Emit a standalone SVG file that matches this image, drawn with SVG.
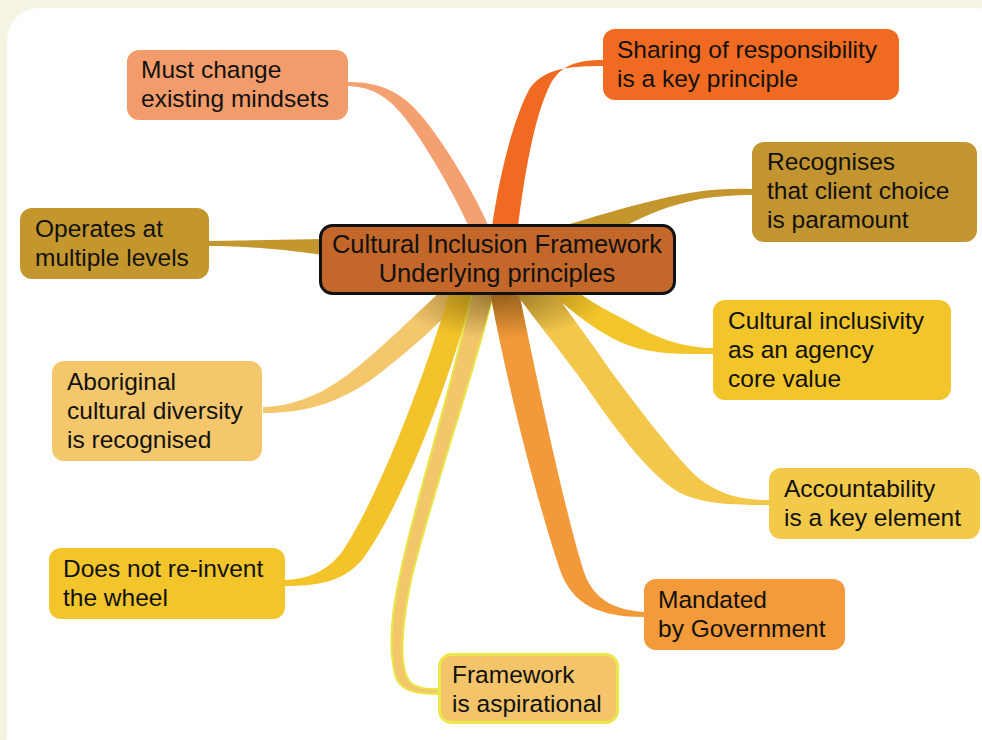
<svg xmlns="http://www.w3.org/2000/svg" xmlns:xlink="http://www.w3.org/1999/xlink" width="982" height="740" viewBox="0 0 982 740">
<style>
.t{font-family:"Liberation Sans",Arial,Helvetica,sans-serif;font-size:24.5px;fill:#111;}
.tc{font-family:"Liberation Sans",Arial,Helvetica,sans-serif;font-size:25.5px;fill:#111;text-anchor:middle;}
.box{stroke:none;}
</style>
<defs>
<radialGradient id="shade" cx="0.5" cy="0.5" r="0.5">
<stop offset="0" stop-color="#4a3000" stop-opacity="0.55"/>
<stop offset="1" stop-color="#4a3000" stop-opacity="0"/>
</radialGradient>
<clipPath id="cc">
<use xlink:href="#c7"/><use xlink:href="#c8"/><use xlink:href="#c9"/><use xlink:href="#c10"/><use xlink:href="#c11"/><use xlink:href="#c6"/>
</clipPath>
</defs>
<rect x="0" y="0" width="982" height="740" fill="#f5f3e1"/>
<rect x="7" y="8" width="1000" height="760" rx="32" fill="#ffffff"/>

<g id="connectors">
<path id="c1" fill="#f4a070" d="M348,82 C385,82 405,95 425,120 C450,152 475,195 489,227 L469,227 C452,190 431,155 414,130 C396,105 380,87 348,86 Z"/>
<path id="c2" fill="#f06a22" d="M603,60 C575,60 560,66 550,85 C535,115 525,170 518,227 L492,227 C500,170 515,115 530,88 C545,68 570,66 603,66 Z"/>
<path id="c3" fill="#c4972e" d="M752,189 C715,188 690,192 660,199 C625,207 590,218 560,227 L624,227 C645,215 670,205 700,199 C720,196 735,195 752,195 Z"/>
<path id="c4" fill="#c4972e" d="M208,241 L322,239 L322,255 C290,250 250,246 208,246 Z"/>
<path id="c7" fill="#f4c76c" d="M263,407 C300,406 330,390 360,365 C390,340 415,315 440,292 L466,292 C445,320 410,350 375,377 C340,403 305,413 263,413 Z"/>
<path id="c8" fill="#f2c42a" d="M285,580 C310,579 328,570 342,552 C370,510 410,420 450,292 L474,292 C437,420 395,515 362,560 C342,583 315,586 285,586 Z"/>
<path id="c9" fill="#f3c66b" stroke="#e8e64a" stroke-width="2" d="M494,292 C472,380 430,500 411,580 C401,630 399,668 410,682 C418,689 428,689 438,689 L438,694 C420,694 402,692 396,678 C388,650 392,610 400,575 C415,500 452,390 472,292 Z"/>
<path id="c10" fill="#f29a3a" d="M644,612 C615,610 595,600 585,575 C570,530 545,420 519,292 L490,292 C510,400 540,510 560,570 C572,605 600,617 644,617 Z"/>
<path id="c11" fill="#f3c84a" d="M769,500 C735,500 715,492 695,475 C670,450 640,410 610,370 C590,340 570,315 555,292 L515,292 C535,320 560,350 585,385 C615,428 645,470 675,490 C700,505 735,505 769,505 Z"/>
<path id="c6" fill="#f2c52b" d="M713,348 C690,348 665,342 640,328 C615,314 595,305 578,292 L550,292 C572,312 595,330 620,342 C650,355 680,354 713,354 Z"/>
<ellipse cx="500" cy="294" rx="110" ry="45" fill="url(#shade)" clip-path="url(#cc)"/>
</g>

<g id="n1"><rect class="box" x="127" y="50" width="221" height="70" rx="12" fill="#f39c6b"/>
<text class="t" x="141" y="78">Must change</text><text class="t" x="141" y="107">existing mindsets</text></g>

<g id="n2"><rect class="box" x="603" y="29" width="296" height="71" rx="12" fill="#f06a22"/>
<text class="t" x="617" y="58">Sharing of responsibility</text><text class="t" x="617" y="87">is a key principle</text></g>

<g id="n3"><rect class="box" x="752" y="142" width="225" height="100" rx="12" fill="#c39530"/>
<text class="t" x="767" y="170">Recognises</text><text class="t" x="767" y="199">that client choice</text><text class="t" x="767" y="228">is paramount</text></g>

<g id="n4"><rect class="box" x="20" y="208" width="189" height="71" rx="12" fill="#c4972e"/>
<text class="t" x="35" y="237">Operates at</text><text class="t" x="35" y="266">multiple levels</text></g>

<g id="center"><rect x="320.5" y="225.5" width="354" height="68" rx="12" fill="#c4672a" stroke="#111" stroke-width="3"/>
<text class="tc" x="497" y="253">Cultural Inclusion Framework</text><text class="tc" x="497" y="282">Underlying principles</text></g>

<g id="n6"><rect class="box" x="713" y="300" width="238" height="100" rx="12" fill="#f2c52b"/>
<text class="t" x="728" y="329">Cultural inclusivity</text><text class="t" x="728" y="358">as an agency</text><text class="t" x="728" y="387">core value</text></g>

<g id="n7"><rect class="box" x="52" y="361" width="210" height="100" rx="12" fill="#f4c76c"/>
<text class="t" x="67" y="390">Aboriginal</text><text class="t" x="67" y="419">cultural diversity</text><text class="t" x="67" y="448">is recognised</text></g>

<g id="n11"><rect class="box" x="769" y="468" width="211" height="71" rx="12" fill="#f3c94a"/>
<text class="t" x="784" y="497">Accountability</text><text class="t" x="784" y="526">is a key element</text></g>

<g id="n8"><rect class="box" x="49" y="548" width="236" height="71" rx="12" fill="#f2c62a"/>
<text class="t" x="63" y="577">Does not re-invent</text><text class="t" x="63" y="606">the wheel</text></g>

<g id="n10"><rect class="box" x="644" y="579" width="201" height="71" rx="12" fill="#f39a3a"/>
<text class="t" x="658" y="608">Mandated</text><text class="t" x="658" y="637">by Government</text></g>

<g id="n9"><rect x="439.5" y="654.5" width="178" height="68" rx="12" fill="#f3c46a" stroke="#ebe84e" stroke-width="3"/>
<text class="t" x="452" y="683">Framework</text><text class="t" x="452" y="712">is aspirational</text></g>
</svg>
